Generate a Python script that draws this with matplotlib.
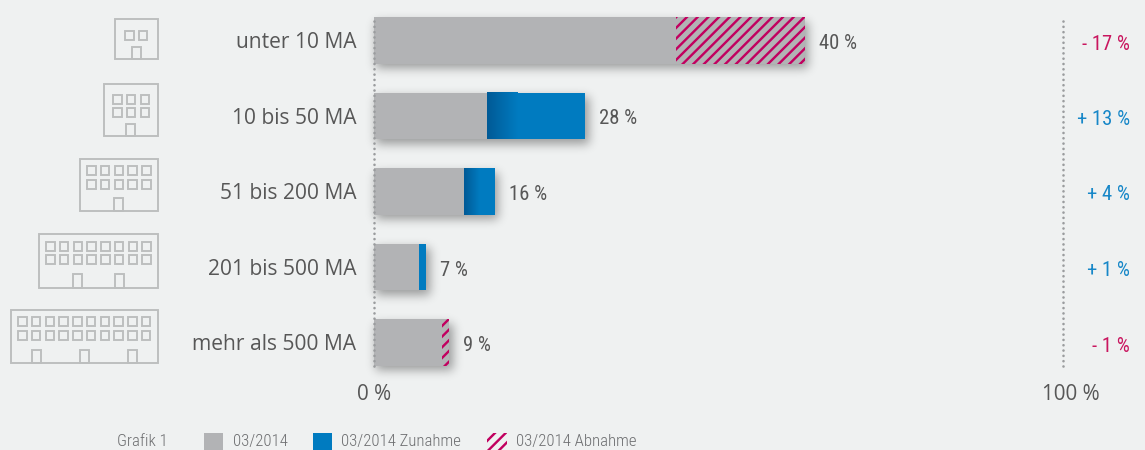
import numpy as np
import matplotlib
matplotlib.use('Agg')
import matplotlib.pyplot as plt
from matplotlib.patches import Rectangle
from matplotlib.colors import LinearSegmentedColormap

categories = ['unter 10 MA', '10 bis 50 MA', '51 bis 200 MA', '201 bis 500 MA', 'mehr als 500 MA']
base = [40, 15, 12, 6, 9]
increase = [0, 13, 4, 1, 0]
decrease = [17, 0, 0, 0, 1]
total_labels = ['40 %', '28 %', '16 %', '7 %', '9 %']
change_labels = ['- 17 %', '+ 13 %', '+ 4 %', '+ 1 %', '- 1 %']
change_up = [False, True, True, True, False]
legend_labels = ['03/2014', '03/2014 Zunahme', '03/2014 Abnahme']

# (left, top, bottom, window columns, first window x, window rows y, door x list, door top)
buildings = [
    (115, 19, 59, 2, 125, [31], [132], 47),
    (104, 84, 136, 3, 113, [95, 108], [126], 124),
    (80, 159, 211, 5, 87, [166, 180], [114], 198),
    (39, 234, 288, 8, 46, [242, 255], [73, 115], 274),
    (11, 310, 363, 10, 18, [317, 331], [32, 80, 128], 350),
]

BG = '#eff1f1'
GRAY = '#b2b3b5'
BLUE = '#007bc0'
DARK_BLUE = '#005a96'
MAGENTA = '#c1005f'
TEXT = '#575757'
ICON = '#bcbebe'

W, H, DPI = 1145, 450, 128
plt.rcParams['hatch.linewidth'] = 1.35
plt.rcParams['hatch.color'] = MAGENTA
plt.rcParams['font.family'] = ['Open Sans', 'DejaVu Sans']
NARROW = ['Roboto Condensed', 'Open Sans Condensed', 'Liberation Sans Narrow', 'Roboto', 'DejaVu Sans']

fig = plt.figure(figsize=(W / DPI, H / DPI), dpi=DPI, facecolor=BG)

# pixel overlay, for shadow, icons and text
bg = fig.add_axes([0, 0, 1, 1], zorder=1)
bg.set_xlim(0, W)
bg.set_ylim(H, 0)
bg.axis('off')

ax_l, ax_r, ax_t, ax_b = 373.5, 1063, 17, 366
ax = fig.add_axes([ax_l / W, 1 - ax_b / H, (ax_r - ax_l) / W, (ax_b - ax_t) / H], zorder=2)
ax.patch.set_alpha(0)
xmax = (ax_r - ax_l) / 7.57
y = np.arange(len(categories))
ylim = (4.311, -0.311)
bar_h = 0.612

ax.barh(y, base, height=bar_h, color=GRAY, zorder=2)
ax.barh(y, increase, left=base, height=bar_h, color=BLUE, zorder=2)
ax.barh(y, decrease, left=base, height=bar_h, color=GRAY, hatch='////', linewidth=0, zorder=2)

# dark start of the blue segments
cmap = LinearSegmentedColormap.from_list('blue_start', [DARK_BLUE, BLUE])
for i in y:
    if increase[i] > 1:
        grad = 0.21 * increase[i] + 1.25
        ax.imshow(np.linspace(0, 1, 64).reshape(1, -1), cmap=cmap, aspect='auto', zorder=3,
                  extent=(base[i], base[i] + grad, i + bar_h / 2, i - bar_h / 2))

ax.set_xlim(0, xmax)
ax.set_ylim(*ylim)
ax.axis('off')

for xpos in [0.12, xmax]:
    ax.axvline(xpos, color='#9a9c9e', lw=1.5, ls=(0, (0.01, 1.98)), dash_capstyle='round', zorder=4, clip_on=False)

# blurred shadow, built from the bars
fig.canvas.draw()
mask = np.zeros((H, W))
for i in y:
    end = base[i] + increase[i] + decrease[i]
    (x0, y0), (x1, y1) = ax.transData.transform([(0, i + bar_h / 2), (end, i - bar_h / 2)])
    mask[int(H - y1) + 5:int(H - y0) + 5, int(x0) + 3:int(x1) + 4] = 1
kernel = np.exp(-np.arange(-18, 19) ** 2 / (2 * 5.0 ** 2))
kernel /= kernel.sum()
mask = np.apply_along_axis(np.convolve, 0, mask, kernel, mode='same')
mask = np.apply_along_axis(np.convolve, 1, mask, kernel, mode='same')
shadow = np.zeros((H, W, 4))
shadow[..., 3] = mask * 0.36
bg.imshow(shadow, extent=(0, W, H, 0), aspect='auto', zorder=1, interpolation='nearest')
bg.set_xlim(0, W)
bg.set_ylim(H, 0)

# value labels next to the bars
for i in y:
    end = base[i] + increase[i] + decrease[i]
    ax.annotate(total_labels[i], (end, i), xytext=(14 * 72 / DPI, -3 * 72 / DPI), textcoords='offset points',
                ha='left', va='center', fontsize=11.6, color=TEXT, family=NARROW)
    bg.text(356, 43 + i * 75.4, categories[i], ha='right', va='center', fontsize=11.8, color=TEXT)
    bg.text(1130, 44 + i * 75.5, change_labels[i], ha='right', va='center', fontsize=11.6,
            color='#1787c8' if change_up[i] else '#c9165f', family=NARROW)

bg.text(374, 394, '0 %', ha='center', va='center', fontsize=11.6, color=TEXT)
bg.text(1071, 394, '100 %', ha='center', va='center', fontsize=11.6, color=TEXT)


def rect(x0, y0, w, h, lw=1.9):
    bg.add_patch(Rectangle((x0, y0), w, h, fill=False, edgecolor=ICON, lw=lw * 72 / DPI, zorder=2))


# building icons
for left, top, bottom, ncols, wx, rows, doors, door_top in buildings:
    rect(left, top, 157.5 - left, bottom - top)
    for wy in rows:
        for c in range(ncols):
            rect(wx + c * 13.75, wy, 8.5, 8.5)
    for dx in doors:
        rect(dx, door_top, 8.5, bottom - door_top)

# legend
bg.text(117, 441.5, 'Grafik 1', ha='left', va='center', fontsize=9.4, color='#6d6e70', family=NARROW, fontweight='light')
bg.add_patch(Rectangle((204, 433), 19, 20, facecolor=GRAY, edgecolor='none', zorder=2))
bg.add_patch(Rectangle((313, 433), 19, 20, facecolor=BLUE, edgecolor='none', zorder=2))
bg.add_patch(Rectangle((487, 433), 20, 20, facecolor='none', edgecolor=MAGENTA, hatch='////', lw=0, zorder=2))
for lx, label in zip([233, 341, 516], legend_labels):
    bg.text(lx, 441.5, label, ha='left', va='center', fontsize=9.4, color='#6d6e70', family=NARROW, fontweight='light')

fig.savefig('out.png', dpi=DPI, facecolor=BG)
